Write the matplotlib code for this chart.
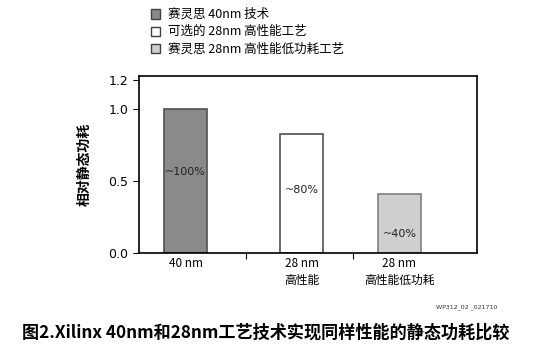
import matplotlib.pyplot as plt

plt.rcParams['font.family'] = ['Noto Sans CJK SC', 'DejaVu Sans']

categories = ["40 nm", "28 nm\n高性能", "28 nm\n高性能低功耗"]
values = [1.0, 0.83, 0.41]
labels = ["~100%", "~80%", "~40%"]
label_y = [0.56, 0.44, 0.13]
legend_names = ["赛灵思 40nm 技术", "可选的 28nm 高性能工艺", "赛灵思 28nm 高性能低功耗工艺"]
colors = ["#8a8a8a", "#ffffff", "#cfcfcf"]
edges = ["#505050", "#505050", "#808080"]

fig = plt.figure(figsize=(5.46, 3.6), dpi=100)
ax = fig.add_axes([139/546, 1-253/360, 338/546, 177/360])

xs = [0, 1.085, 2.0]
bars = ax.bar(xs, values, width=0.4, color=colors, edgecolor=edges, linewidth=1.2)
for x, t, ly in zip(xs, labels, label_y):
    ax.text(x, ly, t, ha='center', va='center', fontsize=8, family='DejaVu Sans', color='#222222')

ax.set_xlim(-0.435, 2.725)
ax.set_ylim(0, 1.23)
ax.set_yticks([0.0, 0.5, 1.0, 1.2])
ax.set_yticklabels(["0.0", "0.5", "1.0", "1.2"], fontsize=9, family='DejaVu Sans')
ax.set_xticks([0.565, 1.565], minor=False)
ax.set_xticklabels([])
ax.tick_params(axis='x', length=4, direction='out')
ax.tick_params(axis='y', length=4, direction='out')
for x, c in zip(xs, categories):
    ax.text(x, -0.03, c, ha='center', va='top', fontsize=8.5, transform=ax.transData, linespacing=1.35)
ax.set_ylabel("相对静态功耗", fontsize=10, fontweight='bold', labelpad=12)
for s in ax.spines.values():
    s.set_color('black')
    s.set_linewidth(1.2)

# legend drawn manually
for i, (name, c, e) in enumerate(zip(legend_names, colors, edges)):
    yy = 1 - (14 + 17.5*i)/360
    fig.patches.append(plt.Rectangle((151/546, yy - 4.5/360), 9/546, 9/360, transform=fig.transFigure,
                                     facecolor=c, edgecolor='#404040', linewidth=1))
    fig.text(168/546, yy, name, fontsize=9, va='center', ha='left')

fig.text(497/546, 1-307/360, "WP312_02 _021710", fontsize=4.5, ha='right', va='center', color='#333333', family='DejaVu Sans')
fig.text(266/546, 1-333/360, "图2.Xilinx 40nm和28nm工艺技术实现同样性能的静态功耗比较", fontsize=12.3,
         fontweight='bold', ha='center', va='center')

fig.savefig("out.png", dpi=100)
